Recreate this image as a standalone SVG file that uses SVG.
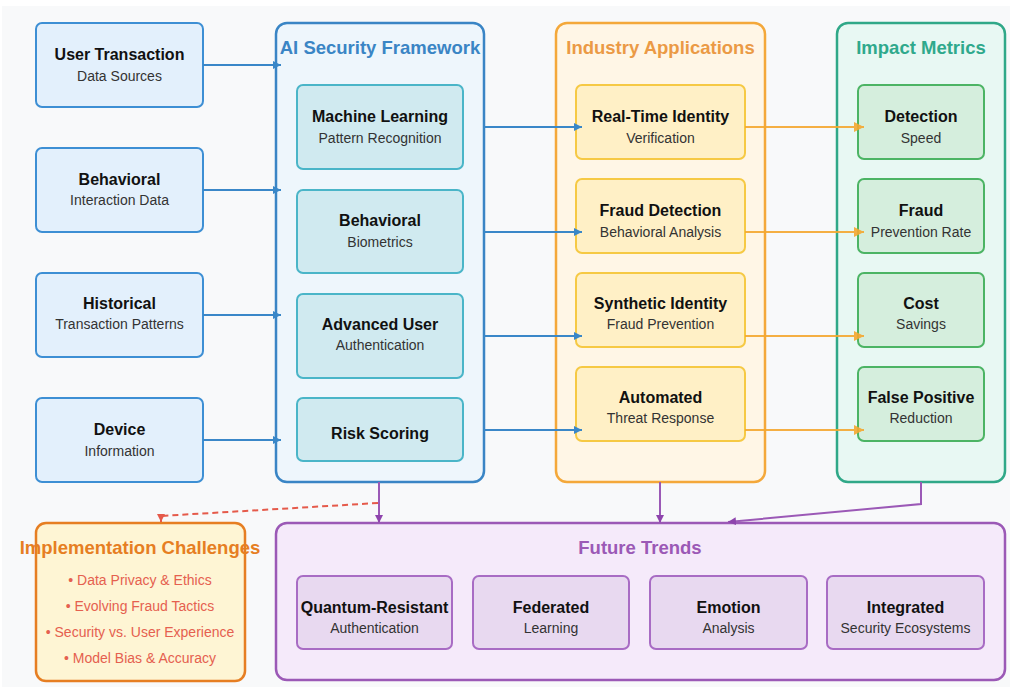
<svg xmlns="http://www.w3.org/2000/svg" width="1010" height="687" viewBox="0 0 1010 687">
<defs>
<style>
.t{font-family:"Liberation Sans",Arial,sans-serif;font-weight:bold;font-size:16px;fill:#111;text-anchor:middle}
.s{font-family:"Liberation Sans",Arial,sans-serif;font-size:14px;fill:#333;text-anchor:middle}
.h{font-family:"Liberation Sans",Arial,sans-serif;font-weight:bold;font-size:18.5px;text-anchor:middle}
.b{font-family:"Liberation Sans",Arial,sans-serif;font-size:14px;fill:#e5604f;text-anchor:middle}
.src{fill:#e3f0fc;stroke:#3d8fd4;stroke-width:2}
.fw{fill:#d0eaf0;stroke:#4ab5c8;stroke-width:2}
.ind{fill:#fff0c6;stroke:#f6c944;stroke-width:2}
.met{fill:#d5eedd;stroke:#4cb464;stroke-width:2}
.tr{fill:#e8d9f0;stroke:#a86cc4;stroke-width:2}
.cb{stroke:#3a87c8;stroke-width:2;fill:none}
.co{stroke:#f5a830;stroke-width:2;fill:none;opacity:0.9}
.cp{stroke:#9b59b6;stroke-width:2;fill:none}
.cr{stroke:#e55a4a;stroke-width:2;fill:none;stroke-dasharray:6,4}
</style>
<marker id="mb" markerWidth="10" markerHeight="10" refX="8" refY="4" orient="auto" markerUnits="userSpaceOnUse"><path d="M0,0 L8,4 L0,8 z" fill="#3a87c8"/></marker>
<marker id="mo" markerWidth="12" markerHeight="12" refX="10" refY="5" orient="auto" markerUnits="userSpaceOnUse"><path d="M0,0 L10,5 L0,10 z" fill="#f5a830"/></marker>
<marker id="mp" markerWidth="10" markerHeight="10" refX="8" refY="4" orient="auto" markerUnits="userSpaceOnUse"><path d="M0,0 L8,4 L0,8 z" fill="#8e44ad"/></marker>
<marker id="mr" markerWidth="10" markerHeight="10" refX="8" refY="4" orient="auto" markerUnits="userSpaceOnUse"><path d="M0,0 L8,4 L0,8 z" fill="#e55a4a"/></marker>
</defs>
<rect x="0" y="0" width="1010" height="687" fill="#ffffff"/>
<rect x="2" y="6" width="1008" height="681" fill="#f8f9fa"/>

<g id="data-sources">
<g id="src-user"><rect class="src" x="36" y="23" width="167" height="84" rx="6"/><text class="t" x="119.5" y="60">User Transaction</text><text class="s" x="119.5" y="81">Data Sources</text></g>
<g id="src-behavioral"><rect class="src" x="36" y="148" width="167" height="84" rx="6"/><text class="t" x="119.5" y="185">Behavioral</text><text class="s" x="119.5" y="205">Interaction Data</text></g>
<g id="src-historical"><rect class="src" x="36" y="273" width="167" height="84" rx="6"/><text class="t" x="119.5" y="309">Historical</text><text class="s" x="119.5" y="329">Transaction Patterns</text></g>
<g id="src-device"><rect class="src" x="36" y="398" width="167" height="84" rx="6"/><text class="t" x="119.5" y="435">Device</text><text class="s" x="119.5" y="456">Information</text></g>
</g>

<g id="framework">
<rect x="276" y="23" width="208" height="459" rx="11" fill="#eef6fc" stroke="#3a85c5" stroke-width="2.5"/>
<text class="h" x="380" y="54" fill="#3a85c5">AI Security Framework</text>
<g id="fw-ml"><rect class="fw" x="297" y="85" width="166" height="84" rx="6"/><text class="t" x="380" y="122">Machine Learning</text><text class="s" x="380" y="143">Pattern Recognition</text></g>
<g id="fw-bio"><rect class="fw" x="297" y="190" width="166" height="83" rx="6"/><text class="t" x="380" y="226">Behavioral</text><text class="s" x="380" y="247">Biometrics</text></g>
<g id="fw-auth"><rect class="fw" x="297" y="294" width="166" height="84" rx="6"/><text class="t" x="380" y="330">Advanced User</text><text class="s" x="380" y="350">Authentication</text></g>
<g id="fw-risk"><rect class="fw" x="297" y="398" width="166" height="63" rx="6"/><text class="t" x="380" y="439">Risk Scoring</text></g>
</g>

<g id="industry">
<rect x="556" y="23" width="209" height="459" rx="11" fill="#fff6e6" stroke="#f4a83a" stroke-width="2.5"/>
<text class="h" x="660.5" y="54" fill="#eb9a45">Industry Applications</text>
<g id="ind-rt"><rect class="ind" x="576" y="85" width="169" height="74" rx="6"/><text class="t" x="660.5" y="122">Real-Time Identity</text><text class="s" x="660.5" y="143">Verification</text></g>
<g id="ind-fd"><rect class="ind" x="576" y="179" width="169" height="74" rx="6"/><text class="t" x="660.5" y="216">Fraud Detection</text><text class="s" x="660.5" y="237">Behavioral Analysis</text></g>
<g id="ind-si"><rect class="ind" x="576" y="273" width="169" height="74" rx="6"/><text class="t" x="660.5" y="309">Synthetic Identity</text><text class="s" x="660.5" y="329">Fraud Prevention</text></g>
<g id="ind-at"><rect class="ind" x="576" y="367" width="169" height="74" rx="6"/><text class="t" x="660.5" y="403">Automated</text><text class="s" x="660.5" y="423">Threat Response</text></g>
</g>

<g id="metrics">
<rect x="837" y="23" width="168" height="459" rx="11" fill="#e8f8f3" stroke="#30a888" stroke-width="2.5"/>
<text class="h" x="921" y="54" fill="#2fa98c">Impact Metrics</text>
<g id="met-det"><rect class="met" x="858" y="85" width="126" height="74" rx="6"/><text class="t" x="921" y="122">Detection</text><text class="s" x="921" y="143">Speed</text></g>
<g id="met-fraud"><rect class="met" x="858" y="179" width="126" height="74" rx="6"/><text class="t" x="921" y="216">Fraud</text><text class="s" x="921" y="237">Prevention Rate</text></g>
<g id="met-cost"><rect class="met" x="858" y="273" width="126" height="74" rx="6"/><text class="t" x="921" y="309">Cost</text><text class="s" x="921" y="329">Savings</text></g>
<g id="met-fp"><rect class="met" x="858" y="367" width="126" height="74" rx="6"/><text class="t" x="921" y="403">False Positive</text><text class="s" x="921" y="423">Reduction</text></g>
</g>

<g id="challenges">
<rect x="36" y="523" width="209" height="158" rx="10" fill="#fef5d4" stroke="#e67e22" stroke-width="2.5"/>
<text class="h" x="140" y="554" fill="#e67e22">Implementation Challenges</text>
<text class="b" x="140" y="585">• Data Privacy &amp; Ethics</text>
<text class="b" x="140" y="611">• Evolving Fraud Tactics</text>
<text class="b" x="140" y="637">• Security vs. User Experience</text>
<text class="b" x="140" y="663">• Model Bias &amp; Accuracy</text>
</g>

<g id="future">
<rect x="276" y="523" width="729" height="157" rx="11" fill="#f5eafa" stroke="#9b59b6" stroke-width="2.5"/>
<text class="h" x="640" y="554" fill="#9b59b6">Future Trends</text>
<g id="tr-quantum"><rect class="tr" x="297" y="576" width="155" height="73" rx="6"/><text class="t" x="374.5" y="613">Quantum-Resistant</text><text class="s" x="374.5" y="633">Authentication</text></g>
<g id="tr-fed"><rect class="tr" x="473" y="576" width="156" height="73" rx="6"/><text class="t" x="551" y="613">Federated</text><text class="s" x="551" y="633">Learning</text></g>
<g id="tr-emo"><rect class="tr" x="650" y="576" width="157" height="73" rx="6"/><text class="t" x="728.5" y="613">Emotion</text><text class="s" x="728.5" y="633">Analysis</text></g>
<g id="tr-int"><rect class="tr" x="827" y="576" width="157" height="73" rx="6"/><text class="t" x="905.5" y="613">Integrated</text><text class="s" x="905.5" y="633">Security Ecosystems</text></g>
</g>

<g id="connectors">
<line class="cb" x1="203" y1="65" x2="281" y2="65" marker-end="url(#mb)"/>
<line class="cb" x1="203" y1="190" x2="281" y2="190" marker-end="url(#mb)"/>
<line class="cb" x1="203" y1="315" x2="281" y2="315" marker-end="url(#mb)"/>
<line class="cb" x1="203" y1="440" x2="281" y2="440" marker-end="url(#mb)"/>
<line class="cb" x1="484" y1="127" x2="582" y2="127" marker-end="url(#mb)"/>
<line class="cb" x1="484" y1="232" x2="582" y2="232" marker-end="url(#mb)"/>
<line class="cb" x1="484" y1="336" x2="582" y2="336" marker-end="url(#mb)"/>
<line class="cb" x1="484" y1="430" x2="582" y2="430" marker-end="url(#mb)"/>
<line class="co" x1="745" y1="127" x2="864" y2="127" marker-end="url(#mo)"/>
<line class="co" x1="745" y1="232" x2="864" y2="232" marker-end="url(#mo)"/>
<line class="co" x1="745" y1="336" x2="864" y2="336" marker-end="url(#mo)"/>
<line class="co" x1="745" y1="430" x2="864" y2="430" marker-end="url(#mo)"/>
<line class="cp" x1="379" y1="482" x2="379" y2="523" marker-end="url(#mp)"/>
<line class="cp" x1="660" y1="482" x2="660" y2="523" marker-end="url(#mp)"/>
<polyline class="cp" points="921,482 921,504 728,522" marker-end="url(#mp)"/>
<polyline class="cr" points="378,503 161,516" />
<line x1="161" y1="515" x2="161" y2="522" stroke="#e55a4a" stroke-width="2" marker-end="url(#mr)"/>
</g>
</svg>
